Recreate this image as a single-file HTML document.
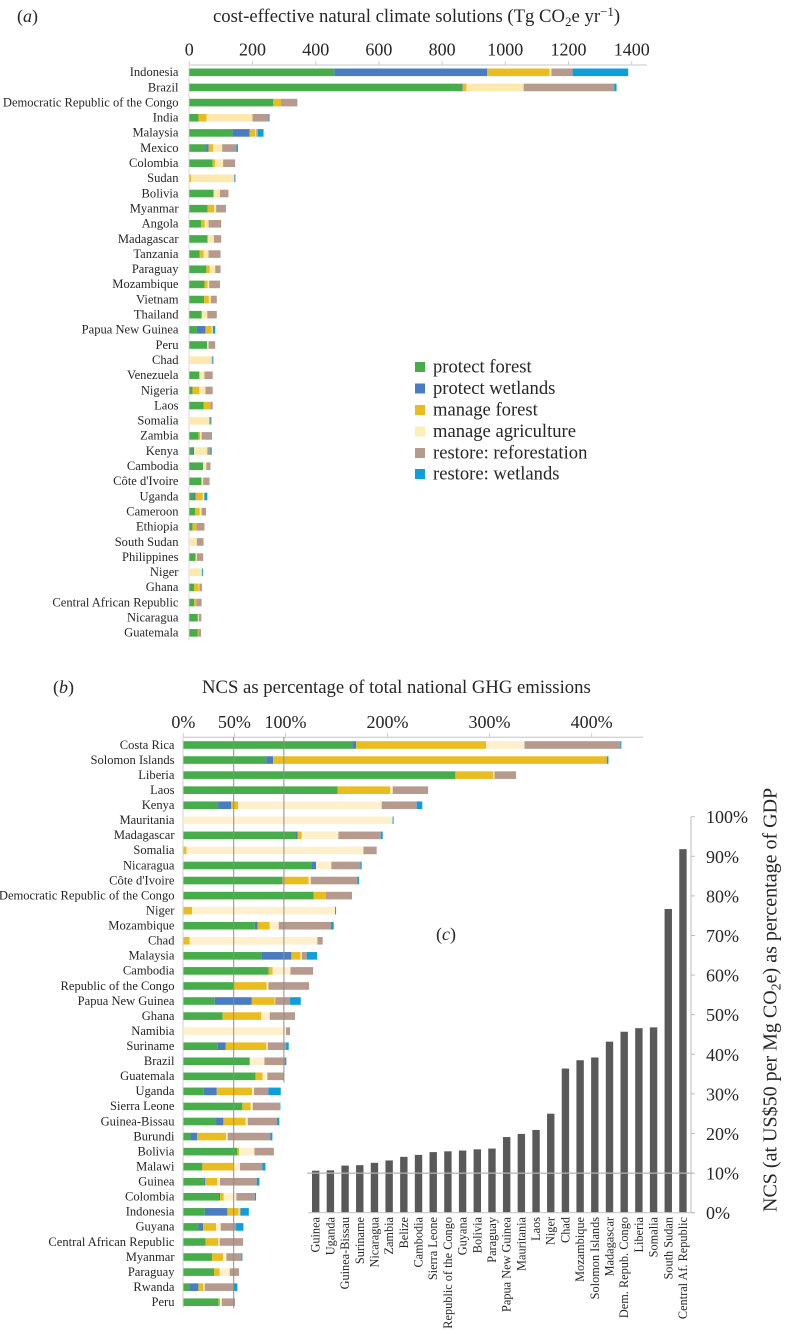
<!DOCTYPE html>
<html lang="en">
<head>
<meta charset="utf-8">
<title>Natural climate solutions by country</title>
<style>
html,body{margin:0;padding:0;background:#fff;}
svg{display:block;font-family:"Liberation Serif",serif;filter:blur(0.3px);}
text{fill:#262626;}
</style>
</head>
<body>
<svg id="figure" xmlns="http://www.w3.org/2000/svg" width="786" height="1331" viewBox="0 0 786 1331">
  <rect width="786" height="1331" fill="#fff"/>

  <text x="17" y="22" font-size="18">(<tspan font-style="italic">a</tspan>)</text>
  <text x="213" y="22" font-size="18.7">cost-effective natural climate solutions (Tg CO<tspan font-size="13" dy="4">2</tspan><tspan dy="-4">e yr</tspan><tspan font-size="13" dy="-6">−1</tspan><tspan dy="6">)</tspan></text>
  <g id="panel-a"></g>

  <g font-size="18.6">
    <g><rect x="415" y="362" width="10" height="10" fill="#46ad4a"/><text x="433" y="372.5">protect forest</text></g>
    <g><rect x="415" y="383.5" width="10" height="10" fill="#4a7cc0"/><text x="433" y="394">protect wetlands</text></g>
    <g><rect x="415" y="405" width="10" height="10" fill="#e9bc20"/><text x="433" y="415.5">manage forest</text></g>
    <g><rect x="415" y="426.5" width="10" height="10" fill="#fdeeb8"/><text x="433" y="437">manage agriculture</text></g>
    <g><rect x="415" y="448" width="10" height="10" fill="#b59a8d"/><text x="433" y="458.5">restore: reforestation</text></g>
    <g><rect x="415" y="469" width="10" height="10" fill="#0e9fdb"/><text x="433" y="479.5">restore: wetlands</text></g>
  </g>

  <text x="53" y="693" font-size="18">(<tspan font-style="italic">b</tspan>)</text>
  <text x="202" y="693" font-size="18.7">NCS as percentage of total national GHG emissions</text>
  <g id="panel-b"></g>

  <text x="436" y="940" font-size="18">(<tspan font-style="italic">c</tspan>)</text>
  <g id="panel-c"></g>
  <text transform="translate(776.5 1212) rotate(-90)" font-size="20">NCS (at US$50 per Mg CO<tspan font-size="14" dy="4">2</tspan><tspan dy="-4">e) as percentage of GDP</tspan></text>
</svg>

<script>
// ---------- Panel (a) data: Tg CO2e per year ----------
const countriesA = ["Indonesia","Brazil","Democratic Republic of the Congo","India","Malaysia","Mexico","Colombia","Sudan","Bolivia","Myanmar","Angola","Madagascar","Tanzania","Paraguay","Mozambique","Vietnam","Thailand","Papua New Guinea","Peru","Chad","Venezuela","Nigeria","Laos","Somalia","Zambia","Kenya","Cambodia","Côte d'Ivoire","Uganda","Cameroon","Ethiopia","South Sudan","Philippines","Niger","Ghana","Central African Republic","Nicaragua","Guatemala"];
const protectForestA = [459,863,266,29,137,53,74,0,77,58,37,58,33,54,48,47,39,24,56,0,32,10,45,0,29,10,44,38,12,18,10,0,20,0,15,15,27,26];
const protectWetlandsA = [484,2,0,0,54,8,0,0,0,0,0,0,0,0,0,0,0,27,0,0,0,0,0,0,0,5,0,0,8,0,0,0,0,0,0,0,0,0];
const manageForestA = [197,12,24,26,18,14,8,6,0,21,12,0,12,11,10,15,1,20,0,0,0,22,21,0,5,0,0,2,23,15,13,0,0,0,15,7,0,3];
const manageAgricultureA = [6,181,0,145,3,29,25,136,20,6,12,20,16,17,5,6,17,3,5,71,16,19,0,63,5,42,10,4,4,6,0,24,4,40,2,0,3,0];
const restoreReforestationA = [67,287,52,51,5,45,38,1,27,31,40,23,38,17,34,19,30,1,21,2,26,23,8,4,29,10,13,20,1,14,25,21,20,0,8,17,8,8];
const restoreWetlandsA = [176,7,0,3,18,5,0,3,0,0,0,0,0,0,0,0,0,7,0,3,0,0,0,3,3,4,0,0,9,0,0,0,0,3,0,0,0,0];
const tickValuesA = [0,200,400,600,800,1000,1200,1400];
const tickLabelsA = ["0","200","400","600","800","1000","1200","1400"];

// ---------- Panel (b) data: % of national GHG emissions ----------
const countriesB = ["Costa Rica","Solomon Islands","Liberia","Laos","Kenya","Mauritania","Madagascar","Somalia","Nicaragua","Côte d'Ivoire","Democratic Republic of the Congo","Niger","Mozambique","Chad","Malaysia","Cambodia","Republic of the Congo","Papua New Guinea","Ghana","Namibia","Suriname","Brazil","Guatemala","Uganda","Sierra Leone","Guinea-Bissau","Burundi","Bolivia","Malawi","Guinea","Colombia","Indonesia","Guyana","Central African Republic","Myanmar","Paraguay","Rwanda","Peru"];
const protectForestB = [165.6,81.3,266.5,151.2,34,0,109.8,0,126,96.7,127.7,0,69.9,0,76.4,83.6,49,30.7,38.5,0,33.6,64.7,70.6,19.9,57.8,32,6.9,52.9,18.6,19.9,34.9,20.9,14.7,21.9,27.4,30,5.9,34.6];
const protectWetlandsB = [3.6,6.6,0,0,12.7,0,2.2,0,4,0.5,0,0,2.9,0,29.4,0,0,36.3,0,0,7.9,0,0,12.8,0,7.2,6.5,0,0,1.3,1,22.2,4.6,0,0.7,0,8.8,0];
const manageForestB = [127.4,327,37.3,51.6,6.9,0,4,3,0,25.6,11.8,8.5,11.8,6.2,8.9,3.9,32.7,22.5,37.9,0,39.8,0.6,7.1,34.6,8.2,21.9,28.4,1.6,30.1,12.1,3.6,11,12.7,12.4,10.8,5.6,4.9,1.3];
const manageAgricultureB = [37.6,0,1,2.3,140.7,205,35.9,173.4,15,2,0,140.1,8.8,125.1,1.3,17.4,1.6,0.5,8.2,100.6,1.3,14.1,4.6,1.9,1.9,1.9,1.6,15.1,6.8,2.6,12.4,1,4.6,1.3,3.2,9.8,1.3,1.7];
const restoreReforestationB = [94,0,21.2,34.7,34.3,0,41.5,13,28.4,45.7,24.8,0,51.3,5.2,4.9,22.2,39.8,14.5,24.8,3.9,18,20.2,16,14.1,26.5,28.8,41.9,18.3,21.9,36,18,1,15,22.9,14.7,9.1,27.8,13];
const restoreWetlandsB = [1,1.6,0,0,5.5,1,1.9,0,1.3,1.6,0.7,1,2.6,0,10.1,0,0,10.5,0,0,2.6,1.3,0,12.1,0.6,2.2,1.9,0.6,3,2.6,1.3,8,7.2,0,1,0,4.2,0];
const tickValuesB = [0,50,100,200,300,400];
const tickLabelsB = ["0%","50%","100%","200%","300%","400%"];
const guideValuesB = [49.3,98.5];
const guideLastRowB = [37,22];

// ---------- Panel (c) data: % of GDP ----------
const countriesC = ["Guinea","Uganda","Guinea-Bissau","Suriname","Nicaragua","Zambia","Belize","Cambodia","Sierra Leone","Republic of the Congo","Guyana","Bolivia","Paraguay","Papua New Guinea","Mauritania","Laos","Niger","Chad","Mozambique","Solomon Islands","Madagascar","Dem. Repub. Congo","Liberia","Somalia","South Sudan","Central Af. Republic"];
const valuesC = [10.6,10.7,11.9,12,12.6,13.2,14.1,14.6,15.3,15.5,15.7,16,16.2,19.1,19.9,20.9,25,36.4,38.5,39.2,43.2,45.7,46.6,46.8,76.7,91.8];
const tickValuesC = [0,10,20,30,40,50,60,70,80,90,100];
const tickLabelsC = ["0%","10%","20%","30%","40%","50%","60%","70%","80%","90%","100%"];
const thresholdC = [10];

// ---------- Shared series naming ----------
const seriesKeys = ["protect-forest","protect-wetlands","manage-forest","manage-agriculture","restore-reforestation","restore-wetlands"];
const colorsA = ["#46ad4a","#4a7cc0","#e9bc20","#fde8ad","#b59a8d","#0e9fdb"];
const colorsB = ["#46ad4a","#4a7cc0","#e9bc20","#fef0cd","#b59a8d","#0e9fdb"];

// ---------- Axis functions ----------
const NS = "http://www.w3.org/2000/svg";
function xA(v){ return 189.3 + v * 0.316; }
function yA(i){ return 72.3 + i * 15.15; }
function xB(v){ return 183.4 + v * 1.0205; }
function yB(i){ return 745 + i * 15.06; }
function xC(i){ return 315.7 + i * 14.69; }
function yC(v){ return 1212.7 - v * 3.96; }

function make(tag, attrs, parent, text){
  const el = document.createElementNS(NS, tag);
  for (const k in attrs) el.setAttribute(k, attrs[k]);
  if (text !== undefined) el.textContent = text;
  parent.appendChild(el);
  return el;
}

// ---------- Horizontal stacked panels ----------
function drawStacked(root, countries, seriesList, colors, x, y, prefix){
  countries.forEach(function(name, i){
    const cy = y(i);
    const label = make("text", {x: prefix === "a" ? 178.5 : 174.5, y: cy + 3.8, "text-anchor": "end", "font-size": 12.55}, root, name);
    
    
    let cum = 0;
    seriesList.forEach(function(series, s){
      const v = series[i];
      if (v > 0) {
        const r = make("rect", {x: x(cum), y: cy - 3.8, width: x(cum + v) - x(cum), height: 7.6, fill: colors[s]}, root);
        
        
        r.setAttribute('data-series', seriesKeys[s]);
      }
      cum += v;
    });
  });
}

// Panel a
const rootA = document.getElementById("panel-a");
const axisA = make("line", {x1: 189, x2: 647, y1: 65, y2: 65, stroke: "#d4d4d4", "stroke-width": 1.3}, rootA);


const spineA = make("line", {x1: 189, x2: 189, y1: 65, y2: 640, stroke: "#e6e6e6", "stroke-width": 1.5}, rootA);


tickValuesA.forEach(function(v, i){
  const t = make("line", {x1: xA(v), x2: xA(v), y1: 61, y2: 65, stroke: "#cfcfcf", "stroke-width": 1}, rootA);
  
  
  const l = make("text", {x: xA(v), y: 55.5, "text-anchor": "middle", "font-size": 18}, rootA, tickLabelsA[i]);
  
  
});
drawStacked(rootA, countriesA, [protectForestA, protectWetlandsA, manageForestA, manageAgricultureA, restoreReforestationA, restoreWetlandsA], colorsA, xA, yA, "a");

// Panel b
const rootB = document.getElementById("panel-b");
const axisB = make("line", {x1: 183, x2: 643, y1: 737.3, y2: 737.3, stroke: "#d4d4d4", "stroke-width": 1.3}, rootB);


const spineB = make("line", {x1: 183, x2: 183, y1: 737, y2: 1308, stroke: "#e0e0e0", "stroke-width": 1.5}, rootB);


tickValuesB.forEach(function(v, i){
  const t = make("line", {x1: xB(v), x2: xB(v), y1: 733, y2: 737, stroke: "#cfcfcf", "stroke-width": 1}, rootB);
  
  
  const l = make("text", {x: xB(v), y: 728, "text-anchor": "middle", "font-size": 18}, rootB, tickLabelsB[i]);
  
  
});
drawStacked(rootB, countriesB, [protectForestB, protectWetlandsB, manageForestB, manageAgricultureB, restoreReforestationB, restoreWetlandsB], colorsB, xB, yB, "b");
guideValuesB.forEach(function(v, i){
  const g = make("line", {x1: xB(v), x2: xB(v), y1: 737, y2: yB(guideLastRowB[i]) + 6, stroke: "#8e8e8e", "stroke-width": 1}, rootB);
  
  
});

// Panel c
const rootC = document.getElementById("panel-c");
valuesC.forEach(function(v, i){
  const b = make("rect", {x: xC(i) - 3.7, y: yC(v), width: 7.4, height: yC(0) - yC(v), fill: "#595959"}, rootC);
  
  
  const l = make("text", {transform: "translate(" + (xC(i) + 4) + " 1217) rotate(-90)", "text-anchor": "end", "font-size": 12.3}, rootC, countriesC[i]);
  
  
});
const baseC = make("line", {x1: 308, x2: 695, y1: yC(0), y2: yC(0), stroke: "#c9c9c9", "stroke-width": 1.2}, rootC);


const spineC = make("line", {x1: 691, x2: 691, y1: yC(100), y2: yC(0), stroke: "#cdcdcd", "stroke-width": 1.3}, rootC);


tickValuesC.forEach(function(v, i){
  const t = make("line", {x1: 691, x2: 695, y1: yC(v), y2: yC(v), stroke: "#bdbdbd", "stroke-width": 1}, rootC);
  
  
  const l = make("text", {x: 706, y: yC(v) + 6.5, "font-size": 18}, rootC, tickLabelsC[i]);
  
  
});
thresholdC.forEach(function(v){
  const r = make("line", {x1: 307, x2: 693, y1: yC(v), y2: yC(v), stroke: "#b4b4b4", "stroke-width": 1.2}, rootC);
  
  
});
</script>
</body>
</html>
